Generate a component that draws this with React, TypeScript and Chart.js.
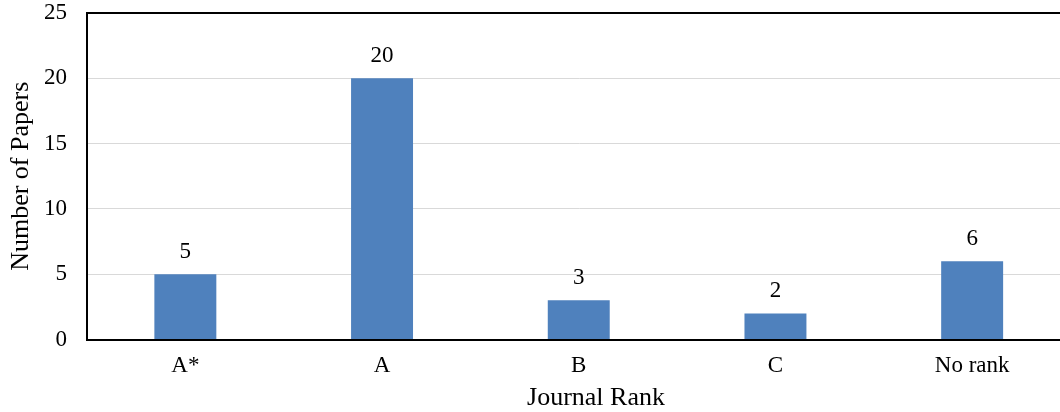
import React, { useEffect, useRef } from "react";
import { Chart, registerables } from "chart.js";

Chart.register(...registerables);

// Journal ranking breakdown of the reviewed papers
const ranks: string[] = ["A*", "A", "B", "C", "No rank"];
const paperCounts: number[] = [5, 20, 3, 2, 6];
const yTicks: number[] = [0, 5, 10, 15, 20, 25];

const xTitle = "Journal Rank";
const yTitle = "Number of Papers";

const SERIF = '"Liberation Serif", "Times New Roman", serif';
const BAR_BLUE = "#4F81BD";

// Draws the value above each bar, the frame's top edge and both axis titles
const decorations = {
  id: "decorations",
  afterDatasetsDraw(chart: Chart) {
    const { ctx, chartArea } = chart;
    const meta = chart.getDatasetMeta(0);
    ctx.save();
    ctx.fillStyle = "#000";
    ctx.font = `23px ${SERIF}`;
    ctx.textAlign = "center";
    ctx.textBaseline = "alphabetic";
    meta.data.forEach((bar: any, i: number) => {
      ctx.fillText(String(paperCounts[i]), bar.x, bar.y - 16);
    });

    // top edge of the plot frame
    ctx.strokeStyle = "#000";
    ctx.lineWidth = 2;
    ctx.beginPath();
    ctx.moveTo(chartArea.left - 1, chartArea.top);
    ctx.lineTo(chart.width, chartArea.top);
    ctx.stroke();

    // axis titles
    ctx.font = `26px ${SERIF}`;
    ctx.fillText(xTitle, 596, 405);
    ctx.translate(28, (chartArea.top + chartArea.bottom) / 2);
    ctx.rotate(-Math.PI / 2);
    ctx.fillText(yTitle, 0, 0);
    ctx.restore();
  },
};

export default function App() {
  const canvasRef = useRef<HTMLCanvasElement | null>(null);

  useEffect(() => {
    document.body.style.margin = "0";
    const canvas = canvasRef.current;
    if (!canvas) return;
    const chart = new Chart(canvas, {
      type: "bar",
      data: {
        labels: ranks,
        datasets: [
          {
            data: paperCounts,
            backgroundColor: BAR_BLUE,
            borderWidth: 0,
            categoryPercentage: 1,
            barPercentage: 0.315,
          },
        ],
      },
      options: {
        responsive: false,
        animation: false,
        devicePixelRatio: 1,
        layout: { padding: { top: 13, right: 3.5, left: 0, bottom: 0 } },
        plugins: {
          legend: { display: false },
          tooltip: { enabled: false },
        },
        scales: {
          x: {
            grid: { display: false, drawTicks: false },
            border: { display: true, color: "#000", width: 2 },
            ticks: {
              color: "#000",
              font: { family: SERIF, size: 23 },
              padding: 13,
              maxRotation: 0,
            },
            afterFit(scale: any) {
              scale.height = 72.5;
              scale.paddingLeft = 0;
              scale.paddingRight = 0;
            },
          },
          y: {
            min: 0,
            max: 25,
            afterBuildTicks(scale: any) {
              scale.ticks = yTicks.map((v) => ({ value: v }));
            },
            grid: {
              color: (c: any) => (c.tick && (c.tick.value === 0 || c.tick.value === 25) ? "rgba(0,0,0,0)" : "#D9D9D9"),
              lineWidth: 1,
              drawTicks: false,
            },
            border: { display: true, color: "#000", width: 2 },
            ticks: {
              color: "#000",
              font: { family: SERIF, size: 23 },
              padding: 20,
            },
            afterFit(scale: any) {
              scale.width = 87;
              scale.paddingTop = 0;
              scale.paddingBottom = 0;
            },
          },
        },
      },
      plugins: [decorations],
    });
    return () => chart.destroy();
  }, []);

  return (
    <div
      style={{
        position: "fixed",
        left: 0,
        top: 0,
        width: 1060,
        height: 412,
        overflow: "hidden",
        background: "#fff",
      }}
    >
      <canvas ref={canvasRef} width={1074} height={412} style={{ display: "block" }} />
    </div>
  );
}
